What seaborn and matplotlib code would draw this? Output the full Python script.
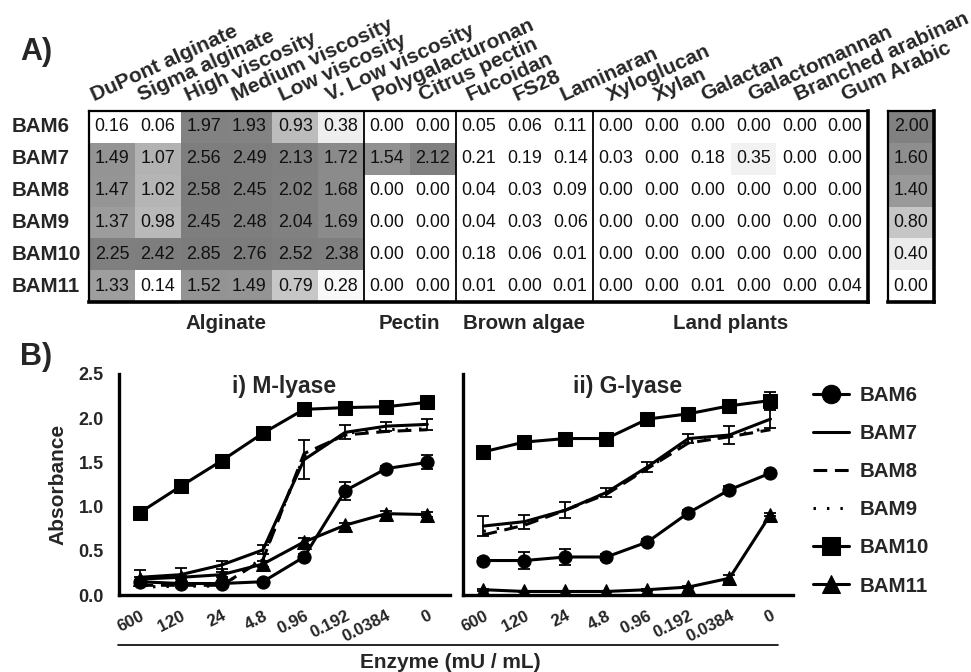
import numpy as np
import pandas as pd
import matplotlib
matplotlib.use("Agg")
import matplotlib.pyplot as plt
from matplotlib.colors import LinearSegmentedColormap
from matplotlib.transforms import ScaledTranslation
from matplotlib.lines import Line2D
import seaborn as sns

sns.set_style("white")
plt.rcParams['font.family'] = ['Liberation Sans', 'DejaVu Sans']

# ---------------- data: panel A ----------------
substrates = ["DuPont alginate", "Sigma alginate", "High viscosity", "Medium viscosity",
              "Low viscosity", "V. Low viscosity", "Polygalacturonan", "Citrus pectin",
              "Fucoidan", "FS28", "Laminaran", "Xyloglucan", "Xylan", "Galactan",
              "Galactomannan", "Branched arabinan", "Gum Arabic"]
enzymes = ["BAM6", "BAM7", "BAM8", "BAM9", "BAM10", "BAM11"]
bam6 = [0.16, 0.06, 1.97, 1.93, 0.93, 0.38, 0.00, 0.00, 0.05, 0.06, 0.11, 0.00, 0.00, 0.00, 0.00, 0.00, 0.00]
bam7 = [1.49, 1.07, 2.56, 2.49, 2.13, 1.72, 1.54, 2.12, 0.21, 0.19, 0.14, 0.03, 0.00, 0.18, 0.35, 0.00, 0.00]
bam8 = [1.47, 1.02, 2.58, 2.45, 2.02, 1.68, 0.00, 0.00, 0.04, 0.03, 0.09, 0.00, 0.00, 0.00, 0.00, 0.00, 0.00]
bam9 = [1.37, 0.98, 2.45, 2.48, 2.04, 1.69, 0.00, 0.00, 0.04, 0.03, 0.06, 0.00, 0.00, 0.00, 0.00, 0.00, 0.00]
bam10 = [2.25, 2.42, 2.85, 2.76, 2.52, 2.38, 0.00, 0.00, 0.18, 0.06, 0.01, 0.00, 0.00, 0.00, 0.00, 0.00, 0.00]
bam11 = [1.33, 0.14, 1.52, 1.49, 0.79, 0.28, 0.00, 0.00, 0.01, 0.00, 0.01, 0.00, 0.00, 0.01, 0.00, 0.00, 0.04]
groups = ["Alginate", "Pectin", "Brown algae", "Land plants"]
group_sizes = [6, 2, 3, 6]
scale_values = [2.00, 1.60, 1.40, 0.80, 0.40, 0.00]

# ---------------- data: panel B ----------------
doses = ["600", "120", "24", "4.8", "0.96", "0.192", "0.0384", "0"]
series = ["BAM6", "BAM7", "BAM8", "BAM9", "BAM10", "BAM11"]
m_bam6 = [0.15, 0.13, 0.13, 0.15, 0.43, 1.18, 1.43, 1.50]
m_bam7 = [0.20, 0.23, 0.34, 0.51, 1.53, 1.84, 1.91, 1.93]
m_bam8 = [0.11, 0.11, 0.11, 0.40, 1.60, 1.81, 1.85, 1.87]
m_bam9 = [0.09, 0.10, 0.10, 0.42, 1.57, 1.83, 1.87, 1.88]
m_bam10 = [0.93, 1.23, 1.52, 1.83, 2.10, 2.12, 2.13, 2.18]
m_bam11 = [0.18, 0.20, 0.23, 0.35, 0.60, 0.79, 0.92, 0.91]
m_err6 = [0.02, 0.02, 0.02, 0.02, 0.03, 0.10, 0.03, 0.08]
m_err7 = [0.08, 0.08, 0.05, 0.05, 0.22, 0.08, 0.05, 0.06]
m_err10 = [0.02, 0.02, 0.02, 0.02, 0.02, 0.02, 0.02, 0.03]
m_err11 = [0.02, 0.02, 0.03, 0.03, 0.04, 0.03, 0.03, 0.03]

g_bam6 = [0.39, 0.39, 0.43, 0.43, 0.60, 0.93, 1.19, 1.38]
g_bam7 = [0.78, 0.83, 0.96, 1.16, 1.45, 1.77, 1.81, 1.99]
g_bam8 = [0.68, 0.79, 0.96, 1.14, 1.43, 1.72, 1.79, 1.87]
g_bam9 = [0.72, 0.81, 0.96, 1.16, 1.43, 1.74, 1.79, 1.90]
g_bam10 = [1.62, 1.73, 1.77, 1.77, 1.99, 2.05, 2.14, 2.20]
g_bam11 = [0.06, 0.04, 0.04, 0.04, 0.06, 0.09, 0.19, 0.91]
g_err6 = [0.03, 0.10, 0.09, 0.03, 0.03, 0.03, 0.04, 0.03]
g_err7 = [0.11, 0.08, 0.09, 0.05, 0.06, 0.05, 0.10, 0.10]
g_err10 = [0.02, 0.02, 0.05, 0.02, 0.03, 0.07, 0.02, 0.10]
g_err11 = [0.01, 0.01, 0.01, 0.01, 0.01, 0.01, 0.04, 0.02]

styles = {
    "BAM6": dict(marker="o", ls="-"),
    "BAM7": dict(marker=None, ls="-"),
    "BAM8": dict(marker=None, ls=(0, (4.5, 2.5))),
    "BAM9": dict(marker=None, ls=(0, (0.8, 3.6))),
    "BAM10": dict(marker="s", ls="-"),
    "BAM11": dict(marker="^", ls="-"),
}

W, H = 971, 672
fig = plt.figure(figsize=(W / 100, H / 100), dpi=100)


def frac(x0, y0, x1, y1):
    return [x0 / W, 1 - y1 / H, (x1 - x0) / W, (y1 - y0) / H]


# ---------------- heatmap ----------------
cmap = LinearSegmentedColormap.from_list("gr", [
    (0.0, "#ffffff"), (0.2 / 3, "#ffffff"), (0.4 / 3, "#ececec"), (0.8 / 3, "#c6c6c6"),
    (1.4 / 3, "#999999"), (1.6 / 3, "#8e8e8e"), (2.0 / 3, "#818181"), (1.0, "#7b7b7b")])

df = pd.DataFrame([bam6, bam7, bam8, bam9, bam10, bam11], index=enzymes, columns=substrates)
axh = fig.add_axes(frac(89, 111, 868, 302))
sns.heatmap(df, ax=axh, cmap=cmap, vmin=0, vmax=3, cbar=False, annot=True, fmt=".2f",
            annot_kws=dict(color="#111111", fontsize=12.9), xticklabels=False, yticklabels=True)
axh.set_ylabel("")
axh.set_yticklabels(enzymes, rotation=0, ha="left", fontweight="bold", fontsize=14.8)
axh.tick_params(axis="y", length=0, pad=56)
for name, sp in axh.spines.items():
    sp.set_visible(True)
    sp.set_color("black")
    sp.set_linewidth(2.6 if name in ("bottom", "right") else 1.6)
bounds = np.cumsum(group_sizes)
for b in bounds[:-1]:
    axh.axvline(b, color="black", lw=1.3)
for i, lab in enumerate(substrates):
    axh.text(i + 0.12 + i * 0.023, -0.3, lab, rotation=24.5, rotation_mode="anchor",
             ha="left", va="baseline", fontweight="bold", fontsize=15, clip_on=False)
starts = np.concatenate([[0], bounds[:-1]])
for g, s, n in zip(groups, starts, group_sizes):
    axh.text(s + n / 2, 6.67, g, ha="center", va="center", fontweight="bold",
             fontsize=14.8, clip_on=False)

axs = fig.add_axes(frac(888, 111, 934, 302))
sdf = pd.DataFrame({"scale": scale_values})
sns.heatmap(sdf, ax=axs, cmap=cmap, vmin=0, vmax=3, cbar=False, annot=True, fmt=".2f",
            annot_kws=dict(color="#111111", fontsize=12.9), xticklabels=False, yticklabels=False)
for name, sp in axs.spines.items():
    sp.set_visible(True)
    sp.set_color("black")
    sp.set_linewidth(2.6 if name in ("bottom", "right") else 1.6)

fig.text(20 / W, 1 - 52 / H, "A)", fontsize=22, fontweight="bold", ha="left", va="center")
fig.text(20 / W, 1 - 357 / H, "B)", fontsize=22, fontweight="bold", ha="left", va="center")

# ---------------- line panels ----------------
axL = fig.add_axes(frac(119, 374, 450, 595))
axR = fig.add_axes(frac(463, 374, 793, 595))

panels = [
    (axL, "i) M-lyase", [m_bam6, m_bam7, m_bam8, m_bam9, m_bam10, m_bam11],
     {"BAM6": m_err6, "BAM7": m_err7, "BAM10": m_err10, "BAM11": m_err11}),
    (axR, "ii) G-lyase", [g_bam6, g_bam7, g_bam8, g_bam9, g_bam10, g_bam11],
     {"BAM6": g_err6, "BAM7": g_err7, "BAM10": g_err10, "BAM11": g_err11}),
]
xidx = np.arange(len(doses))
for ax, title, vals, errs in panels:
    for name, v in zip(series, vals):
        st = styles[name]
        kw = dict(color="black", lw=2.2, ls=st["ls"])
        if st["marker"]:
            kw.update(marker=st["marker"], markersize=9.5, markeredgecolor="black",
                      markerfacecolor="black")
        sns.lineplot(x=xidx, y=v, ax=ax, label=name, **kw)
        if name in errs:
            ax.errorbar(xidx, v, yerr=errs[name], fmt="none", ecolor="black",
                        elinewidth=1.3, capsize=4, capthick=1.3)
    ax.set_xlim(-0.5, 7.55)
    ax.set_ylim(0, 2.5)
    ax.set_yticks([0, 0.5, 1.0, 1.5, 2.0, 2.5])
    ax.set_xticks(xidx)
    ax.set_xticklabels(doses, rotation=27, ha="right", rotation_mode="anchor",
                       fontweight="bold", fontsize=12.2)
    for t in ax.get_xticklabels():
        t.set_transform(t.get_transform() + ScaledTranslation(9 / 100, 0, fig.dpi_scale_trans))
    ax.tick_params(axis="both", direction="out", length=5, width=2, color="black")
    ax.tick_params(axis="x", pad=4.5)
    ax.tick_params(axis="y", pad=6)
    for name in ("top", "right"):
        ax.spines[name].set_visible(False)
    for name in ("left", "bottom"):
        ax.spines[name].set_linewidth(2.4)
        ax.spines[name].set_color("black")
    ax.text(0.5, 0.995, title, transform=ax.transAxes, ha="center", va="top",
            fontweight="bold", fontsize=16.5)
    ax.set_xlabel("")
    ax.get_legend().remove()

axL.set_yticklabels(["0.0", "0.5", "1.0", "1.5", "2.0", "2.5"], fontweight="bold", fontsize=13)
axR.set_yticklabels([])
axL.set_ylabel("Absorbance", fontweight="bold", fontsize=15)
axL.yaxis.set_label_coords(-0.155, 0.5)

handles, labels = axL.get_legend_handles_labels()
fig.legend(handles, labels, loc="upper left", bbox_to_anchor=(813 / W, 1 - 386 / H),
           frameon=False, prop=dict(weight="bold", size=14.8), handlelength=1.75,
           handletextpad=0.5, labelspacing=0.93, borderpad=0, borderaxespad=0,
           markerscale=1.4)

fig.add_artist(Line2D([118 / W, 778 / W], [1 - 645 / H, 1 - 645 / H], color="black", lw=1.2))
fig.text(450 / W, 1 - 662 / H, "Enzyme (mU / mL)", ha="center", va="center",
         fontweight="bold", fontsize=15)

fig.savefig("out.png", dpi=100)
